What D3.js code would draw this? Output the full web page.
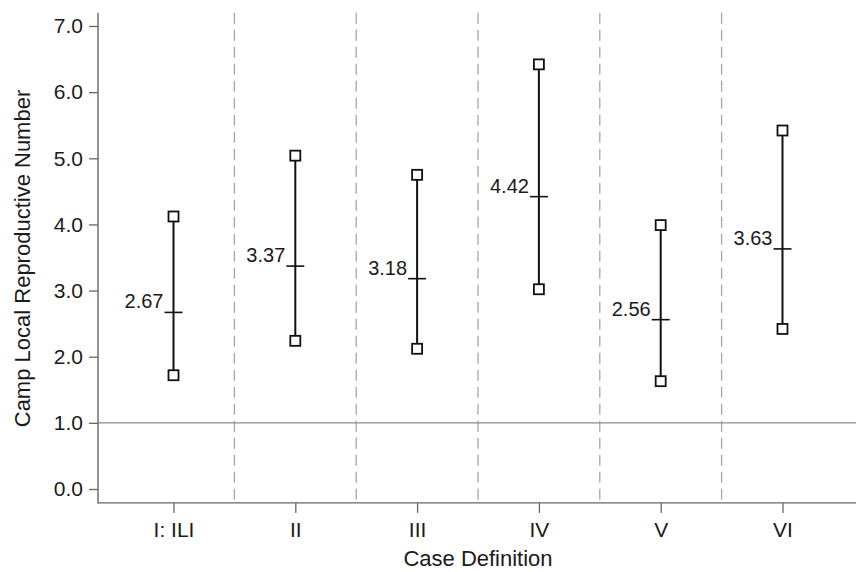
<!DOCTYPE html>
<html>
<head>
<meta charset="utf-8">
<script src="https://cdn.jsdelivr.net/npm/d3@7"></script>
<style>
  html, body { margin: 0; padding: 0; background: #fff; }
  svg { display: block; }
  text { font-family: "Liberation Sans", Arial, Helvetica, sans-serif; fill: #1a1a1a; }
</style>
</head>
<body>
<svg id="chart" width="856" height="572"></svg>
<script>
const categories = ["I: ILI", "II", "III", "IV", "V", "VI"];
const estimates = [2.67, 3.37, 3.18, 4.42, 2.56, 3.63];
const lowerCI = [1.72, 2.24, 2.12, 3.02, 1.63, 2.42];
const upperCI = [4.12, 5.04, 4.75, 6.42, 3.99, 5.42];
const yTicks = [0, 1, 2, 3, 4, 5, 6, 7];
const referenceValue = 1.0;
const yTitle = "Camp Local Reproductive Number";
const xTitle = "Case Definition";

const svg = d3.select("#chart");
const W = 856, H = 572;

const x = d3.scaleLinear().domain([0.38, 6.62]).range([98, 858]);
const y = d3.scaleLinear().domain([0, 7]).range([489, 26]);
const yMin = -0.21, yMax = 7.2;

const axisColor = "#666";

// dashed separators between categories
const seps = d3.range(1, categories.length).map(i => i + 0.5);
svg.append("g").selectAll("line").data(seps).join("line")
  .attr("x1", d => x(d)).attr("x2", d => x(d))
  .attr("y1", y(yMax)).attr("y2", y(yMin))
  .attr("stroke", "#a6a6a6").attr("stroke-width", 1.3)
  .attr("stroke-dasharray", "11,6");

// reference line at 1.0
svg.append("line")
  .attr("x1", x(0.38)).attr("x2", W)
  .attr("y1", y(referenceValue)).attr("y2", y(referenceValue))
  .attr("stroke", "#8c8c8c").attr("stroke-width", 1.3);

// Y axis
const yAxis = svg.append("g").attr("transform", `translate(${x(0.38)},0)`)
  .call(d3.axisLeft(y).tickValues(yTicks).tickFormat(d3.format(".1f")).tickSize(9).tickPadding(6).tickSizeOuter(0));
yAxis.select(".domain").remove();
yAxis.attr("font-size", null).attr("font-family", null);
yAxis.selectAll(".tick line").attr("stroke", axisColor).attr("stroke-width", 1.3);
yAxis.selectAll(".tick text").attr("font-size", 21).style("fill", "#1a1a1a");
svg.append("line").attr("x1", x(0.38)).attr("x2", x(0.38))
  .attr("y1", y(yMax)).attr("y2", y(yMin) + 0.6)
  .attr("stroke", axisColor).attr("stroke-width", 1.4);

// X axis
const xIdx = categories.map((c, i) => i + 1);
const xAxis = svg.append("g").attr("transform", `translate(0,${y(yMin)})`)
  .call(d3.axisBottom(x).tickValues(xIdx).tickFormat(d => categories[d - 1]).tickSize(10).tickPadding(6).tickSizeOuter(0));
xAxis.select(".domain").remove();
xAxis.attr("font-size", null).attr("font-family", null);
xAxis.selectAll(".tick line").attr("stroke", axisColor).attr("stroke-width", 1.3);
xAxis.selectAll(".tick text").attr("font-size", 21).attr("dy", null).attr("y", 34).style("fill", "#1a1a1a");

svg.append("line").attr("x1", x(0.38)).attr("x2", W)
  .attr("y1", y(yMin)).attr("y2", y(yMin))
  .attr("stroke", axisColor).attr("stroke-width", 1.4);

// axis titles
svg.append("text").attr("x", 478).attr("y", 566).attr("text-anchor", "middle")
  .attr("font-size", 22).text(xTitle);
svg.append("text").attr("transform", `translate(30,258.5) rotate(-90)`)
  .attr("text-anchor", "middle").attr("font-size", 22).text(yTitle);

// error bars
const data = categories.map((c, i) => ({ i: i + 1, est: estimates[i], lo: lowerCI[i], hi: upperCI[i] }));
const g = svg.append("g");
g.selectAll("line.ci").data(data).join("line").attr("class", "ci")
  .attr("x1", d => x(d.i)).attr("x2", d => x(d.i))
  .attr("y1", d => y(d.lo)).attr("y2", d => y(d.hi))
  .attr("stroke", "#111").attr("stroke-width", 2);
g.selectAll("line.est").data(data).join("line").attr("class", "est")
  .attr("x1", d => x(d.i) - 9).attr("x2", d => x(d.i) + 9)
  .attr("y1", d => y(d.est)).attr("y2", d => y(d.est))
  .attr("stroke", "#111").attr("stroke-width", 1.6);
const sq = 10;
const ends = data.flatMap(d => [{ i: d.i, v: d.lo }, { i: d.i, v: d.hi }]);
g.selectAll("rect").data(ends).join("rect")
  .attr("x", d => x(d.i) - sq / 2).attr("y", d => y(d.v) - sq / 2)
  .attr("width", sq).attr("height", sq)
  .attr("fill", "#fff").attr("stroke", "#111").attr("stroke-width", 1.8);
g.selectAll("text.lab").data(data).join("text").attr("class", "lab")
  .attr("x", d => x(d.i) - 10).attr("y", d => y(d.est) - 4)
  .attr("text-anchor", "end").attr("font-size", 20)
  .text(d => d.est.toFixed(2));
</script>
</body>
</html>
